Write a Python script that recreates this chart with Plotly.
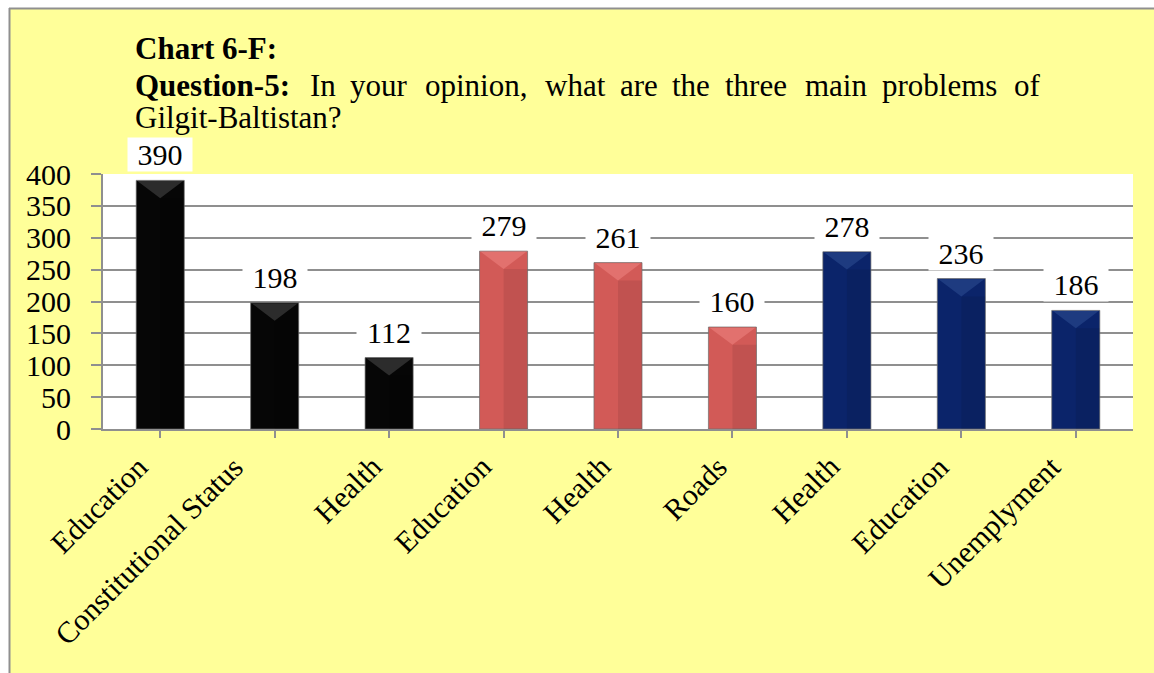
import plotly.graph_objects as go

# Survey responses: three main problems of Gilgit-Baltistan, three groups of answers
categories = ["Education", "Constitutional Status", "Health",
              "Education", "Health", "Roads",
              "Health", "Education", "Unemplyment"]
values = [390, 198, 112, 279, 261, 160, 278, 236, 186]
group = [0, 0, 0, 1, 1, 1, 2, 2, 2]
face_colors = ["#060606", "#D25A57", "#0B246A"]
bevel_colors = ["#2c2c2c", "#E2716E", "#1E3B80"]
y_ticks = [0, 50, 100, 150, 200, 250, 300, 350, 400]

W, H = 1154, 673
L, R, T, B = 103, 21, 174, 244
PW, PH = W - L - R, H - T - B
SERIF = "Liberation Serif"
BAR_W = 0.42
BEVEL = 28  # depth of the bevelled top, in value units


def px_x(px):
    return (px - L) / PW


def px_y(py):
    return (H - B - py) / PH


x_idx = list(range(len(categories)))

fig = go.Figure()
fig.add_trace(go.Bar(
    x=x_idx, y=values,
    marker=dict(color=[face_colors[g] for g in group],
                line=dict(color="rgba(110,110,110,0.7)", width=1)),
    width=BAR_W,
    hoverinfo="skip",
))

# bevel shading: darker right half and a lighter chevron on top of each bar
shade_x, shade_y = [], []
for xi, v in zip(x_idx, values):
    shade_x += [xi, xi + BAR_W / 2, xi + BAR_W / 2, xi, xi, None]
    shade_y += [0, 0, v - BEVEL, v - BEVEL, 0, None]
fig.add_trace(go.Scatter(
    x=shade_x, y=shade_y, mode="lines", fill="toself",
    fillcolor="rgba(0,0,0,0.08)", line=dict(width=0), hoverinfo="skip",
))
for g, col in enumerate(bevel_colors):
    cx, cy = [], []
    for xi, v, gi in zip(x_idx, values, group):
        if gi != g:
            continue
        cx += [xi - BAR_W / 2 + 0.01, xi + BAR_W / 2 - 0.01, xi, xi - BAR_W / 2 + 0.01, None]
        cy += [v - 1, v - 1, v - BEVEL, v - 1, None]
    fig.add_trace(go.Scatter(
        x=cx, y=cy, mode="lines", fill="toself", fillcolor=col,
        line=dict(width=0), hoverinfo="skip",
    ))

annotations = []
# value labels on white boxes above each bar
for xi, v in zip(x_idx, values):
    annotations.append(dict(
        x=xi, y=v, xref="x", yref="y", text=str(v), showarrow=False,
        yanchor="bottom", yshift=8, bgcolor="white", borderpad=0, width=64,
        font=dict(family=SERIF, size=30, color="black"),
    ))

# slanted category labels under the axis; longer labels sit further left
for xi, lab in zip(x_idx, categories):
    annotations.append(dict(
        x=xi, y=0, xref="x", yref="y", text=lab, showarrow=False,
        textangle=-45, xanchor="right", yanchor="top",
        xshift=11 - 1.6 * len(lab), yshift=-18,
        font=dict(family=SERIF, size=30, color="black"),
    ))

# heading block
heading_lines = [
    [("<b>Chart 6-F:</b>", 133)],
    [("<b>Question-5:</b>", 133), ("In", 308), ("your", 348), ("opinion,", 423),
     ("what", 543), ("are", 618), ("the", 670), ("three", 723), ("main", 803),
     ("problems", 880), ("of", 1012)],
    [("Gilgit-Baltistan?", 133)],
]
line_y = [48, 86, 118]
for words, cy in zip(heading_lines, line_y):
    for txt, lx in words:
        annotations.append(dict(
            x=px_x(lx), y=px_y(cy), xref="paper", yref="paper", text=txt,
            showarrow=False, xanchor="left", yanchor="middle",
            font=dict(family=SERIF, size=31, color="black"),
        ))

shapes = [
    # white page strips outside the yellow panel
    dict(type="rect", xref="paper", yref="paper", x0=px_x(0), x1=px_x(W),
         y0=px_y(8), y1=px_y(0), fillcolor="white", line=dict(width=0), layer="below"),
    dict(type="rect", xref="paper", yref="paper", x0=px_x(0), x1=px_x(9),
         y0=px_y(H), y1=px_y(0), fillcolor="white", line=dict(width=0), layer="below"),
    # panel border
    dict(type="line", xref="paper", yref="paper", x0=px_x(9), x1=px_x(W),
         y0=px_y(8.5), y1=px_y(8.5), line=dict(color="#8f8f8f", width=2)),
    dict(type="line", xref="paper", yref="paper", x0=px_x(9.5), x1=px_x(9.5),
         y0=px_y(8), y1=px_y(H), line=dict(color="#8f8f8f", width=2)),
]

fig.update_layout(
    width=W, height=H,
    margin=dict(l=L, r=R, t=T, b=B, autoexpand=False),
    paper_bgcolor="#FFFF99",
    plot_bgcolor="white",
    showlegend=False,
    annotations=annotations,
    shapes=shapes,
    font=dict(family=SERIF, color="black"),
)
fig.update_xaxes(
    range=[-0.5, len(categories) - 0.5],
    tickmode="array", tickvals=x_idx, ticktext=categories, showticklabels=False,
    ticks="outside", tickson="boundaries", ticklen=7, tickwidth=2, tickcolor="#8f8f8f",
    showline=True, linecolor="#8f8f8f", linewidth=2,
    showgrid=False, zeroline=False, automargin=False,
)
fig.update_yaxes(
    range=[0, 400], tickmode="array", tickvals=y_ticks,
    tickfont=dict(family=SERIF, size=30, color="black"),
    ticks="outside", ticklen=10, tickwidth=2, tickcolor="#8f8f8f",
    ticklabelstandoff=14,
    showline=True, linecolor="#8f8f8f", linewidth=2,
    showgrid=True, gridcolor="#8f8f8f", gridwidth=2,
    zeroline=False, automargin=False,
)

fig.write_html("out.html")
